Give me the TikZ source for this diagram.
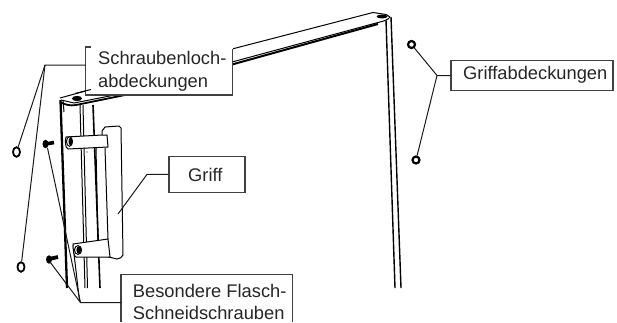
\documentclass[tikz,border=0pt]{standalone}
\usepackage{fontspec}
\setmainfont{Liberation Sans}
\usetikzlibrary{shapes.geometric}
\tikzset{
  lead/.style={line width=1pt,black!90},
  boxl/.style={line width=1.1pt,black!75},
  lab/.style={anchor=base west,inner sep=0pt,text=black!85,font=\fontsize{18.3}{22}\selectfont},
  thick1/.style={line width=1.4pt,black},
  thin1/.style={line width=1pt,black},
  heavy/.style={line width=2.3pt,black},
  capnut/.style={draw=black,line width=1.8pt,fill=white,ellipse,minimum width=7pt,minimum height=9.5pt,inner sep=0pt},
  ringnut/.style={draw=black,line width=2.2pt,fill=white,circle,minimum size=7pt,inner sep=0pt}
}
\begin{document}
\begin{tikzpicture}[x=1pt,y=-1pt]
\useasboundingbox (0,0) rectangle (617,322);
% --- door: rails
\draw[thin1] (80,105) -- (85,288);
\draw[thin1] (83,105) -- (87.5,288);
\draw[line width=1.6pt] (93,105) -- (100,288);
\draw[thin1] (96,148) -- (98,240);
\draw[heavy] (60.5,100) -- (67,288);
\draw[thin1] (63,100) -- (64,112);
\draw[thin1] (73,245) -- (79.5,301);
% door top
\draw[thin1] (60,98) -- (91,89.5);
\draw[line width=1.8pt] (60,102) .. controls (66,105) and (70,106) .. (76,105) -- (125,95);
\draw[thin1] (61,100) -- (74,103) -- (125,93);
\draw[thin1] (232,49) -- (373,12.5) -- (386,14.5) -- (390,17);
\draw[line width=2pt] (232,64.5) -- (378,24);
\draw[thin1] (232,62) -- (378,22.5) .. controls (384,21) and (388,20) .. (390,17);
\fill (77,98.5) ellipse [x radius=5,y radius=2.6];
\fill (382,16.5) ellipse [x radius=5.5,y radius=2];
% door right side
\draw[thick1] (386,20) -- (395,288);
\draw[thick1] (391,17) -- (401,288);
% --- handle
\fill[white] (107,135) -- (102,135) -- (102,131) -- (105,127) -- (119,126) -- (121,128)
   -- (123,255) -- (110,257) -- (108,239) -- cycle;
\draw[thin1] (102,135) -- (102,131) -- (105,127) -- (119,126) -- (121,128) -- (123,255)
   .. controls (122,258) and (120,258) .. (117,259)
   .. controls (114,259) and (112,257) .. (108,257);
\draw[thin1] (105,148) -- (108,239);
\draw[thin1,fill=white] (66,137) -- (102,135) -- (107,135) -- (108,147) -- (68,149)
   .. controls (65,148) and (65,140) .. (66,137) -- cycle;
\draw[thin1,fill=white] (73,244) -- (108,239) -- (110,257) -- (76,257)
   .. controls (74,257) and (73,250) .. (73,244) -- cycle;
\draw[thin1,fill=white] (69.5,141.5) ellipse [x radius=3,y radius=4.8];
\fill (70.5,141.5) ellipse [x radius=2,y radius=3.8];
\draw[thin1,fill=white] (78,250) ellipse [x radius=3.6,y radius=4.4];
\fill (78.8,250) ellipse [x radius=2.4,y radius=3.6];
\fill (87,152) circle [radius=0.7];
% --- small parts
\node[capnut] (capa) at (16.5,152) {};
\node[capnut] (capb) at (21,267) {};
\node[ringnut] (nuta) at (411.5,44.5) {};
\node[ringnut] (nutb) at (416,160) {};
\draw[line width=3.6pt] (46,144) -- (54,142.5);
\fill (45.5,144) ellipse [x radius=3,y radius=4.2];
\coordinate (screwa) at (47.5,148);
\draw[line width=3.8pt] (49,259) -- (58,257);
\fill (49,259.5) ellipse [x radius=3,y radius=4.2];
\coordinate (screwb) at (50,262);
% --- label boxes
\node[draw,boxl,fill=white,minimum width=76pt,minimum height=35.5pt,inner sep=0pt] (griffbox) at (207,174.4) {};
\node[lab] (grifft) at (188,181) {Griff};
\node[draw,boxl,fill=white,minimum width=162pt,minimum height=29.5pt,inner sep=0pt] (gabbox) at (532,75.5) {};
\node[lab] (gabt) at (463,79) {Griffabdeckungen};
% Schraubenloch box: open at the top
\fill[white] (85.5,47) rectangle (232.7,95);
\draw[boxl] (91,47) -- (85.5,47) -- (85.5,95) -- (232.7,95) -- (232.7,49);
\coordinate (schrw) at (85.5,65);
\node[lab] (schra) at (98,64) {Schraubenloch-};
\node[lab] (schrb) at (98,87) {abdeckungen};
\draw[thin1] (75,93.5) -- (91,89.5);
% Besondere box: cut by the lower margin
\fill[white] (121,274.3) rectangle (292.7,322);
\draw[boxl] (121,322) -- (121,274.3) -- (292.7,274.3) -- (292.7,322);
\coordinate (besw) at (121,302.5);
\node[lab] (besa) at (132.7,297) {Besondere Flasch-};
\node[lab] (besb) at (132.7,319) {Schneidschrauben};
% --- leaders
\coordinate (jschr) at (45,65);
\draw[lead] (schrw) -- (jschr) -- (capa);
\draw[lead] (jschr) -- (capb);
\coordinate (jgriff) at (147,174.4);
\coordinate (griffend) at (118,214);
\draw[lead] (griffbox.west) -- (jgriff) -- (griffend);
\coordinate (jgab) at (437,75.5);
\draw[lead] (gabbox.west) -- (jgab) -- (nuta);
\draw[lead] (jgab) -- (nutb);
\coordinate (jbes) at (80.5,302.5);
\draw[lead] (besw) -- (jbes) -- (screwa);
\draw[lead] (jbes) -- (screwb);
\end{tikzpicture}
\end{document}
